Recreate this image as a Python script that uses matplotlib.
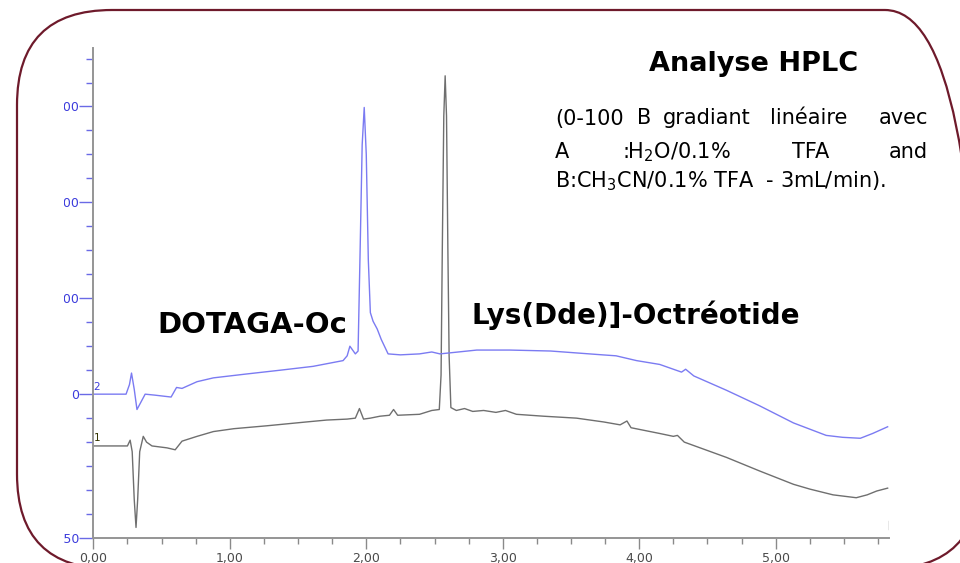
import matplotlib
matplotlib.use('Agg')
import matplotlib.pyplot as plt
import numpy as np
from matplotlib.patches import FancyBboxPatch
from matplotlib.transforms import Bbox, IdentityTransform
from matplotlib.ticker import FixedLocator, FuncFormatter

# ──────────────────────────────────────────────
# Chromatogram data (time in min, signal in mAU)
# ──────────────────────────────────────────────

# trace 2 : DOTAGA-Oc (blue)
BLUE_T = [0.00, 0.24, 0.265, 0.28, 0.30, 0.32, 0.35, 0.38, 0.45, 0.57, 0.61, 0.65,
          0.76, 0.88, 1.12, 1.37, 1.61, 1.83, 1.86, 1.88, 1.92, 1.94, 1.955, 1.97,
          1.985, 2.00, 2.015, 2.03, 2.05, 2.08, 2.11, 2.16, 2.25, 2.39, 2.48, 2.54,
          2.81, 3.05, 3.35, 3.54, 3.73, 3.83, 3.98, 4.15, 4.31, 4.34, 4.40, 4.64,
          4.88, 5.13, 5.37, 5.49, 5.62, 5.71, 5.82]
BLUE_V = [0, 0, 10, 22, 5, -16, -8, 0, -1, -3, 7, 6,
          13, 17, 21, 25, 29, 35, 40, 50, 42, 45, 150, 260,
          299, 250, 140, 85, 76, 68, 57, 42, 41, 42, 44, 42,
          46, 46, 45, 43, 41, 40, 35, 31, 23, 26, 19, 4,
          -12, -30, -43, -45, -46, -41, -34]

# trace 1 : Lys(Dde)]-Octréotide (grey)
GRAY_T = [0.00, 0.25, 0.27, 0.285, 0.30, 0.313, 0.325, 0.34, 0.366, 0.39, 0.43,
          0.54, 0.60, 0.65, 0.76, 0.88, 1.03, 1.27, 1.56, 1.71, 1.86, 1.92, 1.95,
          1.98, 2.03, 2.10, 2.17, 2.20, 2.23, 2.39, 2.48, 2.535, 2.548, 2.557,
          2.568, 2.578, 2.588, 2.598, 2.607, 2.62, 2.66, 2.72, 2.78, 2.86, 2.95,
          3.02, 3.10, 3.30, 3.54, 3.74, 3.86, 3.91, 3.94, 4.15, 4.25, 4.28, 4.33,
          4.64, 4.88, 5.13, 5.25, 5.42, 5.59, 5.67, 5.74, 5.82]
GRAY_V = [-54, -54, -48, -60, -110, -139, -110, -60, -44, -50, -54,
          -56, -58, -49, -44, -39, -36, -33, -29, -27, -26, -25, -15,
          -26, -25, -23, -22, -16, -22, -21, -17, -16, 20, 150,
          290, 332, 290, 150, 40, -14, -17, -15, -18, -17, -19,
          -17, -21, -23, -25, -29, -32, -28, -35, -41, -44, -43, -50,
          -66, -80, -94, -99, -105, -108, -105, -101, -98]

X_MAJOR = [0, 1, 2, 3, 4, 5]
Y_MAJOR = [-150, 0, 100, 200, 300]

W, H = 960, 563


def px(x, y):
    """pixel (from top-left) -> figure fraction"""
    return x / W, 1 - y / H


fig = plt.figure(figsize=(W / 100, H / 100), dpi=100)
fig.patch.set_facecolor('white')

# rounded frame
frame = FancyBboxPatch((17, -6), 963, 559, boxstyle='round,pad=0,rounding_size=95',
                       transform=IdentityTransform(), facecolor='none',
                       edgecolor='#6e1a2b', linewidth=1.6, zorder=0)
fig.add_artist(frame)

ax = fig.add_axes([93.3 / W, (H - 538) / H, (889 - 93.3) / W, (538 - 48) / H])
ax.patch.set_alpha(0)

ax.plot(GRAY_T, GRAY_V, color='#6f6f6f', lw=1.0)
ax.plot(BLUE_T, BLUE_V, color='#7b7bf2', lw=1.0)

ax.set_xlim(0, 5.83)
ax.set_ylim(-150, 361)

for s in ['top', 'right']:
    ax.spines[s].set_visible(False)
for s in ['left', 'bottom']:
    ax.spines[s].set_color('#959595')
    ax.spines[s].set_linewidth(1.4)

ax.xaxis.set_major_locator(FixedLocator(X_MAJOR))
ax.xaxis.set_minor_locator(FixedLocator([t for t in np.arange(0.25, 5.8, 0.25) if t % 1]))
ax.xaxis.set_major_formatter(FuncFormatter(lambda v, p: f'{v:.2f}'.replace('.', ',')))
ax.tick_params(axis='x', which='major', length=8, width=1.0, color='#8a8a8a',
               labelsize=9, labelcolor='#4a4a4a', pad=2)
ax.tick_params(axis='x', which='minor', length=4, width=1.0, color='#8a8a8a')

ax.yaxis.set_major_locator(FixedLocator(Y_MAJOR))
ax.yaxis.set_minor_locator(FixedLocator([v for v in range(-125, 351, 25) if v not in Y_MAJOR]))
ax.yaxis.set_major_formatter(FuncFormatter(lambda v, p: f'{int(v)}'))
ax.tick_params(axis='y', which='major', length=10, width=1.0, color='#6a6ae6',
               labelsize=9, labelcolor='#3c3cdc', pad=0)
ax.tick_params(axis='y', which='minor', length=5, width=1.0, color='#6a6ae6')

# end-of-run marker on the time axis
ax.axvline(5.83, ymin=0.018, ymax=0.035, color='#8a8a8a', lw=1.0)

# channel numbers
ax.text(0.026, 7.5, '2', color='#3c3cdc', fontsize=7.5, ha='center', va='center')
ax.text(0.026, -46, '1', color='#333300', fontsize=7.5, ha='center', va='center')

# y labels are cut by the left edge of the screenshot
clip = Bbox.from_extents(64, 0, W, H)
for tick in ax.yaxis.get_major_ticks():
    tick.label1.set_clip_box(clip)
    tick.label1.set_clip_on(True)

# annotations
fig.text(*px(754, 64), 'Analyse HPLC', fontsize=19.5, fontweight='bold',
         ha='center', va='center')
fig.text(*px(157, 333), 'DOTAGA-Oc', fontsize=21, fontweight='bold', ha='left',
         va='baseline')
fig.text(*px(471, 324), 'Lys(Dde)]-Octréotide', fontsize=20, fontweight='bold',
         ha='left', va='baseline')

# justified paragraph
fs = 15
for x, word, ha in [(555, '(0-100', 'left'), (637, 'B', 'left'),
                    (663, 'gradiant', 'left'), (770, 'linéaire', 'left'),
                    (928, 'avec', 'right')]:
    fig.text(*px(x, 124.5), word, fontsize=fs, ha=ha, va='baseline')
for x, word, ha in [(555, 'A', 'left'), (622, ':H$_2$O/0.1%', 'left'),
                    (792, 'TFA', 'left'), (928, 'and', 'right')]:
    fig.text(*px(x, 158), word, fontsize=fs, ha=ha, va='baseline')
fig.text(*px(555, 187), 'B:CH$_3$CN/0.1% TFA  - 3mL/min).', fontsize=fs,
         ha='left', va='baseline')

fig.savefig('out.png', dpi=100)
